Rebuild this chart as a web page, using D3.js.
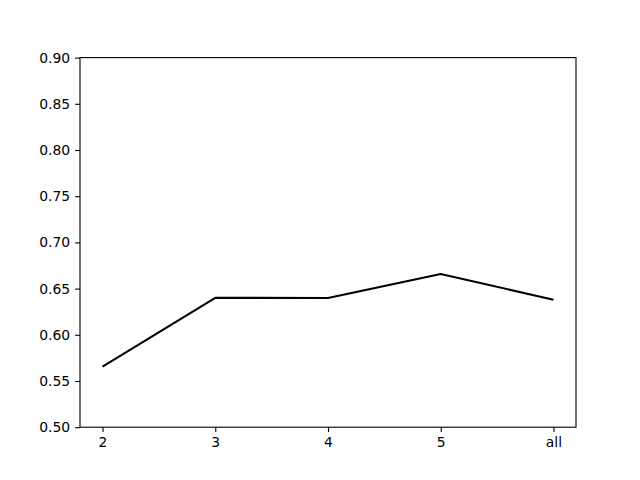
<!DOCTYPE html>
<html>
<head>
    <meta charset="utf-8">
    <style>
        body { margin: 0; background: white; }
        svg { display: block; }
        .tick text { font-family: "DejaVu Sans", sans-serif; font-size: 13.9px; fill: black; }
    </style>
</head>
<body>
<svg width="640" height="480"></svg>
<script src="https://d3js.org/d3.v7.min.js"></script>
<script>
    // data
    let categories = ["2", "3", "4", "5", "all"]
    let values = [0.5655, 0.640, 0.6398, 0.6658, 0.638]
    let yTicks = [0.50, 0.55, 0.60, 0.65, 0.70, 0.75, 0.80, 0.85, 0.90]

    let width = 640
    let height = 480
    let plotLeft = 80, plotRight = 576, plotTop = 57.6, plotBottom = 427.2

    let svg = d3.select("svg")

    // matplotlib style 5% padding on the index axis
    let x = d3.scaleLinear()
        .domain([-0.2, categories.length - 1 + 0.2])
        .range([plotLeft, plotRight])

    let y = d3.scaleLinear()
        .domain([0.5, 0.9])
        .range([plotBottom, plotTop])

    let xAxis = d3.axisBottom(x)
        .tickValues(d3.range(categories.length))
        .tickFormat(i => categories[i])
        .tickSizeInner(4.9)
        .tickSizeOuter(0)
        .tickPadding(4.9)

    let yAxis = d3.axisLeft(y)
        .tickValues(yTicks)
        .tickFormat(d3.format(".2f"))
        .tickSizeInner(4.9)
        .tickSizeOuter(0)
        .tickPadding(4.9)

    svg.append("g")
        .attr("transform", "translate(0," + plotBottom + ")")
        .call(xAxis)

    svg.append("g")
        .attr("transform", "translate(" + plotLeft + ",0)")
        .call(yAxis)

    svg.selectAll(".domain").remove()
    svg.selectAll(".tick line").style("stroke", "black").style("stroke-width", 1.1)

    // the line
    let line = d3.line()
        .x((d, i) => x(i))
        .y(d => y(d))

    svg.append("path")
        .datum(values)
        .attr("d", line)
        .style("fill", "none")
        .style("stroke", "black")
        .style("stroke-width", 2.1)
        .style("stroke-linejoin", "round")

    // frame
    svg.append("rect")
        .attr("x", plotLeft)
        .attr("y", plotTop)
        .attr("width", plotRight - plotLeft)
        .attr("height", plotBottom - plotTop)
        .style("fill", "none")
        .style("stroke", "black")
        .style("stroke-width", 1.1)
</script>
</body>
</html>
